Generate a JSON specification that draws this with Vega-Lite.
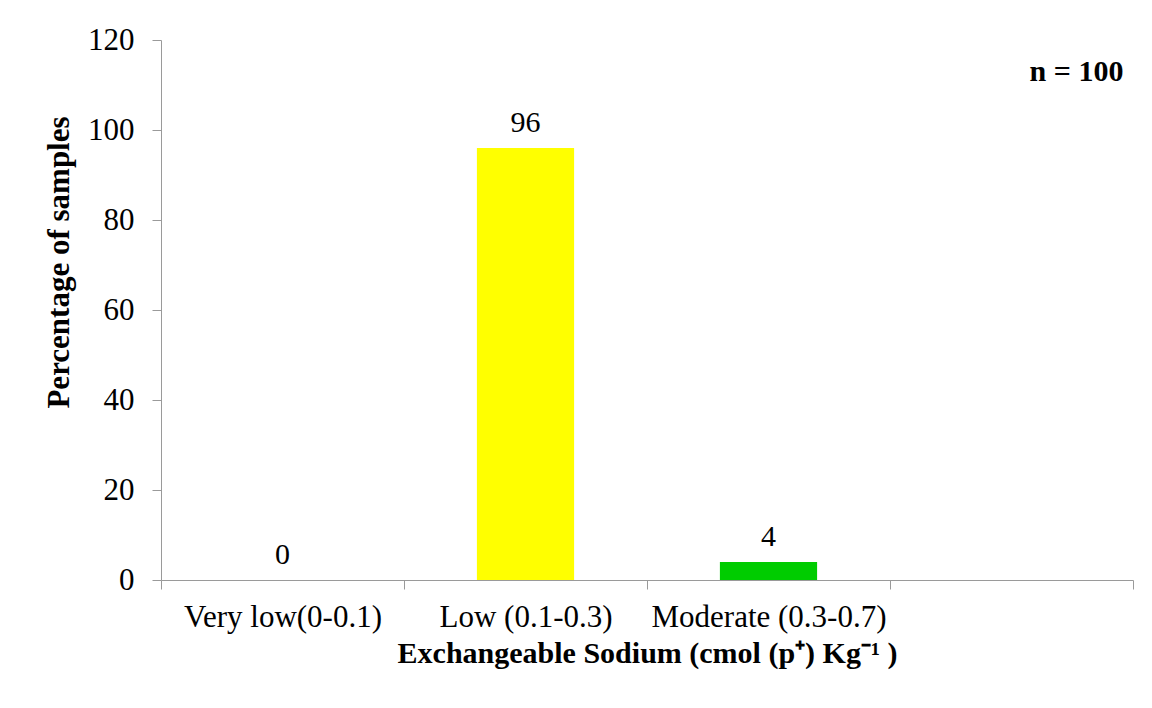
{
  "$schema": "https://vega.github.io/schema/vega-lite/v6.json",
  "autosize": "none",
  "width": 972,
  "height": 540,
  "padding": {"left": 161, "top": 40, "right": 19, "bottom": 128},
  "background": "white",
  "config": {
    "view": {"stroke": null},
    "font": "Liberation Serif",
    "axis": {"grid": false, "domainColor": "#9a9a9a", "tickColor": "#9a9a9a", "labelColor": "black", "titleColor": "black", "labelFont": "Liberation Serif", "titleFont": "Liberation Serif", "labelLimit": 0}
  },
  "datasets": {
    "bars": [
      {"category": "Very low(0-0.1)", "percent": 0},
      {"category": "Low (0.1-0.3)", "percent": 96},
      {"category": "Moderate (0.3-0.7)", "percent": 4}
    ],
    "note": [
      {"category": " ", "percent": 111, "text": "n = 100"}
    ]
  },
  "data": {"name": "bars"},
  "layer": [
    {
      "mark": {"type": "bar", "width": {"band": 0.4}},
      "encoding": {
        "x": {
          "field": "category", "type": "nominal", "sort": null,
          "scale": {"domain": ["Very low(0-0.1)", "Low (0.1-0.3)", "Moderate (0.3-0.7)", " "], "paddingInner": 0, "paddingOuter": 0},
          "axis": {
            "title": "Exchangeable Sodium (cmol (p⁺)  Kg⁻¹ )",
            "labelAngle": 0, "labelFontSize": 31, "labelPadding": 13, "tickSize": 9, "tickBand": "extent",
            "titleFontSize": 30, "titleFontWeight": "bold", "titlePadding": 6, "labelOverlap": false, "labelLimit": 0
          }
        },
        "y": {
          "field": "percent", "type": "quantitative",
          "scale": {"domain": [0, 120]},
          "axis": {
            "title": "Percentage of samples", "values": [0, 20, 40, 60, 80, 100, 120],
            "labelFontSize": 31, "labelPadding": 18, "tickSize": 9,
            "titleFontSize": 31, "titleFontWeight": "bold", "titlePadding": 12, "titleY": 222
          }
        },
        "color": {
          "field": "category", "type": "nominal",
          "scale": {"domain": ["Very low(0-0.1)", "Low (0.1-0.3)", "Moderate (0.3-0.7)"], "range": ["#4472C4", "#FFFF00", "#00CC00"]},
          "legend": null
        }
      }
    },
    {
      "mark": {"type": "text", "fontSize": 30, "baseline": "alphabetic", "dy": -16, "color": "black"},
      "encoding": {
        "x": {"field": "category", "type": "nominal", "sort": null},
        "y": {"field": "percent", "type": "quantitative"},
        "text": {"field": "percent", "type": "quantitative"}
      }
    },
    {
      "data": {"name": "note"},
      "mark": {"type": "text", "fontSize": 30, "fontWeight": "bold", "baseline": "alphabetic", "align": "center", "dx": 65, "color": "black"},
      "encoding": {
        "x": {"field": "category", "type": "nominal", "sort": null},
        "y": {"field": "percent", "type": "quantitative"},
        "text": {"field": "text"}
      }
    }
  ]
}
